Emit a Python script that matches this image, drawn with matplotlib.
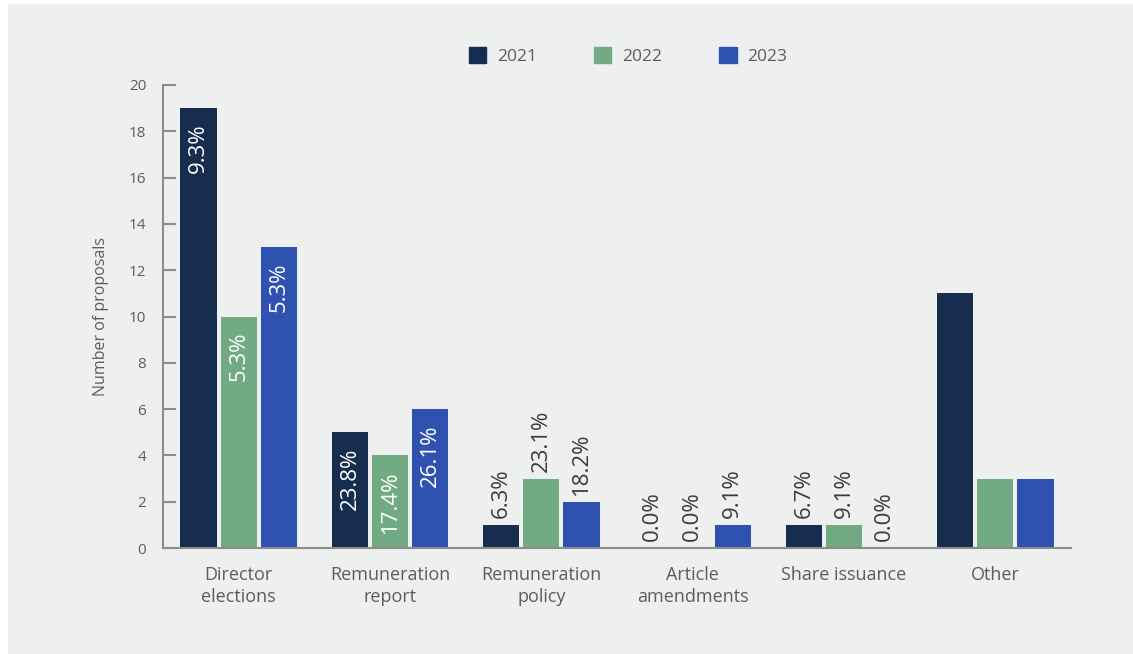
import matplotlib.pyplot as plt
import matplotlib.patches as mpatches
import numpy as np

plt.rcParams['font.family'] = ['Open Sans', 'DejaVu Sans']

categories = ['Director\nelections', 'Remuneration\nreport', 'Remuneration\npolicy',
              'Article\namendments', 'Share issuance', 'Other']
years = ['2021', '2022', '2023']
counts_2021 = [19, 5, 1, 0, 1, 11]
counts_2022 = [10, 4, 3, 0, 1, 3]
counts_2023 = [13, 6, 2, 1, 0, 3]
pct_2021 = ['9.3%', '23.8%', '6.3%', '0.0%', '6.7%', None]
pct_2022 = ['5.3%', '17.4%', '23.1%', '0.0%', '9.1%', None]
pct_2023 = ['5.3%', '26.1%', '18.2%', '9.1%', '0.0%', None]
yticks = [0, 2, 4, 6, 8, 10, 12, 14, 16, 18, 20]

colors = ['#172d4f', '#72aa84', '#2f52b0']
bg = '#eeefef'
text_grey = '#5c5c5c'
axis_grey = '#8c8c8c'

fig = plt.figure(figsize=(11.33, 6.54), dpi=100, facecolor='white')
# grey panel behind the chart
fig.patches.append(mpatches.Rectangle((8 / 1133, 0), 1, 1 - 4 / 654,
                                      transform=fig.transFigure,
                                      facecolor=bg, edgecolor='none', zorder=-10))
ax = fig.add_axes([163 / 1133, 106 / 654, 908 / 1133, 463 / 654])
ax.patch.set_alpha(0)

x = np.arange(len(categories))
width = 0.24
pitch = 0.265
series = [counts_2021, counts_2022, counts_2023]
labels = [pct_2021, pct_2022, pct_2023]

for i, (vals, labs) in enumerate(zip(series, labels)):
    pos = x + (i - 1) * pitch
    ax.bar(pos, vals, width, color=colors[i], label=years[i], zorder=2)
    for px, v, lab in zip(pos, vals, labs):
        if lab is None:
            continue
        # tall bars carry the share inside, short ones just above
        if v >= 4:
            ax.annotate(lab, (px, v), xytext=(0, -11), textcoords='offset points',
                        rotation=90, ha='center', va='top', color='white',
                        fontsize=16)
        else:
            ax.annotate(lab, (px, v), xytext=(0, 5), textcoords='offset points',
                        rotation=90, ha='center', va='bottom', color='#3a3a3a',
                        fontsize=16)

ax.set_xlim(-0.5, 5.5)
ax.set_ylim(0, 20)
ax.set_yticks(yticks)
ax.set_xticks(x)
ax.set_xticklabels(categories, fontsize=13, color=text_grey, linespacing=1.3)
ax.tick_params(axis='x', length=0, pad=13)
ax.tick_params(axis='y', direction='in', length=9.5, width=1.5, color=axis_grey,
               labelsize=11, labelcolor=text_grey, pad=12)
for side in ['top', 'right']:
    ax.spines[side].set_visible(False)
for side in ['left', 'bottom']:
    ax.spines[side].set_color(axis_grey)
    ax.spines[side].set_linewidth(1.5)

ax.set_ylabel('Number of proposals', fontsize=11.5, color=text_grey, labelpad=14)

handles = [mpatches.Patch(color=c) for c in colors]
fig.legend(handles, years, loc='center', bbox_to_anchor=(628 / 1133, 1 - 56 / 654),
           ncol=3, frameon=False, fontsize=12.5, labelcolor=text_grey,
           handlelength=1.0, handleheight=1.0, handletextpad=0.6,
           columnspacing=3.3)

fig.savefig('out.png', dpi=100, facecolor=fig.get_facecolor())
